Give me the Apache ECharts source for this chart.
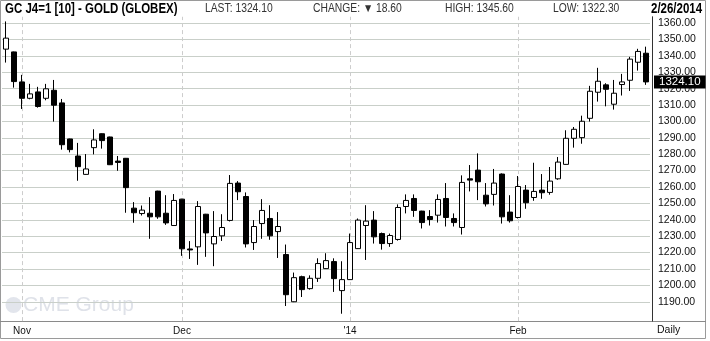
<!DOCTYPE html>
<html>
<head>
<meta charset="utf-8">
<script src="https://cdn.jsdelivr.net/npm/echarts@6/dist/echarts.min.js"></script>
<style>
  html, body { margin: 0; padding: 0; background: #fff; }
  #chart { width: 710px; height: 341px; }
</style>
</head>
<body>
<div id="chart"></div>
<script>
// trading days, 30 Oct 2013 - 26 Feb 2014
const dates = [
  '10/30', '10/31',
  '11/1', '11/4', '11/5', '11/6', '11/7', '11/8', '11/11', '11/12', '11/13', '11/14', '11/15',
  '11/18', '11/19', '11/20', '11/21', '11/22', '11/25', '11/26', '11/27', '11/29',
  '12/2', '12/3', '12/4', '12/5', '12/6', '12/9', '12/10', '12/11', '12/12', '12/13',
  '12/16', '12/17', '12/18', '12/19', '12/20', '12/23', '12/24', '12/26', '12/27', '12/30', '12/31',
  '1/2', '1/3', '1/6', '1/7', '1/8', '1/9', '1/10', '1/13', '1/14', '1/15', '1/16', '1/17',
  '1/21', '1/22', '1/23', '1/24', '1/27', '1/28', '1/29', '1/30', '1/31',
  '2/3', '2/4', '2/5', '2/6', '2/7', '2/10', '2/11', '2/12', '2/13', '2/14',
  '2/18', '2/19', '2/20', '2/21', '2/24', '2/25', '2/26',
]

// open, close, low, high
const ohlc = [
  [1344.1, 1350.8, 1335.9, 1361.0], [1342.4, 1324.3, 1320.6, 1342.6],
  [1324.1, 1314.1, 1307.6, 1328.4], [1314.1, 1316.8, 1313.5, 1322.9], [1318.0, 1309.1, 1308.4, 1321.1],
  [1314.1, 1319.9, 1312.9, 1322.9], [1319.0, 1309.9, 1299.9, 1325.3], [1311.3, 1285.8, 1282.8, 1313.7],
  [1289.3, 1282.8, 1281.1, 1289.5], [1278.9, 1272.4, 1263.8, 1286.9], [1267.7, 1271.0, 1267.5, 1280.1],
  [1284.0, 1288.7, 1279.9, 1295.2], [1292.5, 1288.3, 1283.4, 1292.7], [1290.5, 1273.6, 1273.4, 1290.7],
  [1275.8, 1275.0, 1269.9, 1278.9], [1277.5, 1259.6, 1244.3, 1277.7], [1247.1, 1244.3, 1238.2, 1250.8],
  [1243.8, 1245.9, 1242.6, 1248.7], [1244.0, 1241.8, 1228.4, 1253.8], [1257.5, 1241.8, 1240.6, 1257.7],
  [1244.0, 1238.1, 1236.9, 1255.0], [1236.5, 1251.8, 1236.3, 1255.7],
  [1252.6, 1222.3, 1218.0, 1252.8], [1222.2, 1221.6, 1216.1, 1227.0], [1223.5, 1248.1, 1212.5, 1251.4],
  [1243.4, 1232.0, 1217.4, 1243.6], [1225.3, 1229.8, 1211.7, 1245.3], [1230.2, 1235.3, 1227.1, 1243.4],
  [1239.6, 1262.2, 1239.0, 1267.3], [1262.4, 1257.1, 1252.0, 1263.6], [1254.2, 1225.3, 1223.1, 1256.7],
  [1226.1, 1235.9, 1221.6, 1239.8], [1237.7, 1245.7, 1228.4, 1252.6], [1240.8, 1230.2, 1227.8, 1248.9],
  [1232.8, 1235.9, 1216.7, 1244.7], [1218.8, 1194.3, 1187.4, 1224.9], [1190.0, 1204.7, 1189.8, 1207.8],
  [1205.3, 1197.4, 1192.9, 1205.9], [1198.0, 1204.3, 1197.4, 1206.1], [1204.3, 1213.3, 1202.1, 1216.5],
  [1210.2, 1215.1, 1210.0, 1219.6], [1214.5, 1204.1, 1196.0, 1216.5], [1196.8, 1203.5, 1182.7, 1214.7],
  [1203.5, 1226.1, 1203.3, 1231.6], [1222.4, 1239.8, 1222.2, 1240.8], [1236.5, 1239.2, 1215.5, 1248.9],
  [1239.8, 1229.6, 1225.5, 1245.3], [1231.6, 1225.5, 1221.8, 1232.2], [1225.5, 1230.4, 1223.5, 1231.6],
  [1228.0, 1247.5, 1227.3, 1249.4], [1248.1, 1251.8, 1243.9, 1255.5], [1253.0, 1245.7, 1241.8, 1255.5],
  [1245.3, 1238.3, 1234.7, 1245.5], [1242.0, 1240.2, 1236.5, 1245.9], [1242.8, 1252.4, 1238.3, 1255.5],
  [1253.0, 1241.4, 1235.9, 1262.4], [1240.8, 1238.3, 1235.9, 1243.9], [1235.3, 1262.8, 1231.0, 1267.1],
  [1265.0, 1264.2, 1257.3, 1273.4], [1270.3, 1263.2, 1252.0, 1280.5], [1255.0, 1249.7, 1248.1, 1262.4],
  [1255.5, 1262.4, 1248.7, 1271.0], [1267.9, 1241.8, 1237.7, 1268.3], [1244.7, 1239.4, 1238.3, 1255.0],
  [1241.4, 1260.3, 1240.8, 1266.7], [1258.1, 1250.4, 1246.7, 1261.2], [1253.6, 1257.3, 1251.6, 1274.8],
  [1258.1, 1256.5, 1252.8, 1267.9], [1256.7, 1263.6, 1255.3, 1272.2], [1265.0, 1275.2, 1264.4, 1278.3],
  [1273.8, 1289.7, 1273.6, 1294.6], [1289.7, 1295.2, 1284.0, 1296.6], [1290.1, 1300.1, 1286.4, 1303.5],
  [1301.9, 1318.4, 1299.9, 1321.7], [1317.8, 1324.5, 1312.1, 1332.7], [1322.3, 1319.6, 1309.2, 1323.3],
  [1310.5, 1317.2, 1307.2, 1325.3], [1322.5, 1324.1, 1315.8, 1329.0], [1325.1, 1338.0, 1318.6, 1339.4],
  [1336.1, 1342.7, 1331.0, 1344.3], [1341.6, 1324.1, 1322.3, 1345.6],
]

const monthStarts = ['11/1', '12/2', '1/2', '2/3']
const monthLabels = ['Nov', 'Dec', "'14", 'Feb']
const yTicks = [1190, 1200, 1210, 1220, 1230, 1240, 1250, 1260, 1270, 1280, 1290, 1300, 1310, 1320, 1330, 1340, 1350, 1360]
const lastPrice = 1324.1

const sans = "'Liberation Sans', Arial, sans-serif"

const myChart = echarts.init(document.getElementById('chart'))

// header texts: squeezed horizontally to look like a narrow face
const headerText = (text, x, bold) => ({
  type: 'text',
  x: x,
  y: 9,
  scaleX: bold ? 0.82 : 0.86,
  style: {
    text: text,
    x: 0,
    y: 0,
    textVerticalAlign: 'middle',
    verticalAlign: 'middle',
    font: bold ? 'bold 14px ' + sans : '12px ' + sans,
    fill: bold ? '#000' : '#333',
  },
})

const options = {
  animation: false,
  backgroundColor: '#fff',
  grid: {
    left: 2,
    right: 60,
    top: 16.75,
    bottom: 19.9,
  },
  xAxis: {
    type: 'category',
    data: dates,
    boundaryGap: true,
    axisLine: { show: false },
    axisTick: { show: false },
    splitLine: { show: false },
    axisLabel: {
      margin: 5,
      color: '#111',
      fontSize: 10,
      fontFamily: sans,
      interval: (index, value) => monthStarts.indexOf(value) >= 0,
      formatter: (value) => monthLabels[monthStarts.indexOf(value)] || '',
    },
  },
  yAxis: {
    type: 'value',
    position: 'right',
    offset: 2,
    min: 1178.2,
    max: 1363.85,
    axisLine: { show: true, lineStyle: { color: '#333', width: 1 } },
    axisTick: { show: false, customValues: yTicks },
    axisLabel: {
      customValues: yTicks,
      margin: 6,
      color: '#111',
      fontSize: 10.5,
      fontFamily: sans,
      formatter: (v) => v.toFixed(2),
    },
    splitLine: { show: true, lineStyle: { color: '#c9cfc9', width: 1 } },
  },
  series: [
    {
      // month separators, kept under the candles
      type: 'line',
      data: [],
      z: 1,
      silent: true,
      markLine: {
        z: 1,
        silent: true,
        symbol: 'none',
        animation: false,
        label: { show: false },
        lineStyle: { color: '#cdcdcd', type: [4, 3], width: 1 },
        data: monthStarts.map((d) => ({ xAxis: d })),
      },
    },
    {
      type: 'candlestick',
      data: ohlc,
      z: 3,
      barWidth: 5,
      itemStyle: {
        color: '#fff',
        color0: '#000',
        borderColor: '#000',
        borderColor0: '#000',
        borderWidth: 1,
      },
      markLine: {
        silent: true,
        symbol: 'none',
        animation: false,
        lineStyle: { color: 'rgba(0,0,0,0)', width: 0 },
        label: {
          show: true,
          position: 'end',
          distance: 4,
          formatter: () => lastPrice.toFixed(2),
          backgroundColor: '#000',
          color: '#fff',
          fontSize: 11.5,
          fontFamily: sans,
          padding: [1, 5, 0, 5],
        },
        data: [{ yAxis: lastPrice }],
      },
    },
  ],
  graphic: [
    // outer frame
    { type: 'rect', shape: { x: 0.5, y: 0.5, width: 705, height: 338 }, style: { fill: 'none', stroke: '#9a9a9a', lineWidth: 1 }, z: 0 },
    // bottom axis line across the full width
    { type: 'line', shape: { x1: 0, y1: 321.5, x2: 706, y2: 321.5 }, style: { stroke: '#8a8a8a', lineWidth: 1 }, z: 0 },
    // watermark
    { type: 'circle', shape: { cx: 13.5, cy: 305, r: 8 }, style: { fill: '#e2e5ec' }, z: 0 },
    {
      type: 'text', z: 0,
      style: { text: 'CME Group', x: 23, y: 305, textVerticalAlign: 'middle', verticalAlign: 'middle', font: '21px ' + sans, fill: '#dfe2e9' },
    },
    headerText('GC J4=1 [10] - GOLD (GLOBEX)', 5, true),
    headerText('LAST: 1324.10', 205, false),
    headerText('CHANGE: \u25BC 18.60', 313, false),
    headerText('HIGH: 1345.60', 445, false),
    headerText('LOW: 1322.30', 553, false),
    headerText('2/26/2014', 651, true),
    {
      type: 'text',
      style: { text: 'Daily', x: 657, y: 330, textVerticalAlign: 'middle', verticalAlign: 'middle', font: '10.5px ' + sans, fill: '#111' },
    },
  ],
}

myChart.setOption(options)
</script>
</body>
</html>
